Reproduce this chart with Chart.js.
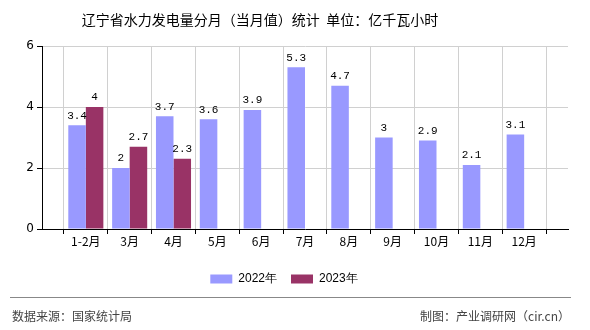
<!DOCTYPE html>
<html>
<head>
<meta charset="utf-8">
<script src="https://cdn.jsdelivr.net/npm/chart.js@4"></script>
<style>
  body { margin: 0; background: #fff; }
  #wrap { position: relative; width: 590px; height: 330px; font-family: "Noto Sans CJK SC", sans-serif; }
  #title { position: absolute; left: 0; top: 9px; width: 520px; text-align: center; font-size: 14px; color: #000; }
  #rule { position: absolute; left: 10px; top: 297px; width: 561px; height: 0; border-top: 1px solid #888; }
  .foot { position: absolute; top: 307px; font-size: 12px; color: #444; }
</style>
</head>
<body>
<div id="wrap">
  <canvas id="chart" width="590" height="330"></canvas>
  <div id="title">辽宁省水力发电量分月（当月值）统计&nbsp; 单位：亿千瓦小时</div>
  <div id="rule"></div>
  <div class="foot" style="left:12px">数据来源：国家统计局</div>
  <div class="foot" style="right:20px">制图：产业调研网（cir.cn）</div>
</div>
<script>
// month labels, padded with an empty slot at each end like the original axis
const months = ['1-2月', '3月', '4月', '5月', '6月', '7月', '8月', '9月', '10月', '11月', '12月'];
const values2022 = [3.4, 2, 3.7, 3.6, 3.9, 5.3, 4.7, 3, 2.9, 2.1, 3.1];
const values2023 = [4, 2.7, 2.3];
const yTicks = [0, 2, 4, 6];

const labels = [''].concat(months, ['']);
function pad(arr) {
    const out = [null];
    for (let i = 0; i < months.length; i++) out.push(i < arr.length ? arr[i] : null);
    out.push(null);
    return out;
}

// draw value above each bar
const valueLabels = {
    id: 'valueLabels',
    afterDatasetsDraw(chart) {
        const ctx = chart.ctx;
        ctx.save();
        ctx.font = '11px "Liberation Mono", monospace';
        ctx.fillStyle = '#000';
        ctx.textAlign = 'center';
        ctx.textBaseline = 'bottom';
        chart.data.datasets.forEach((ds, di) => {
            const meta = chart.getDatasetMeta(di);
            meta.data.forEach((bar, i) => {
                if (ds.data[i] == null) return;
                ctx.fillText(String(ds.data[i]), bar.x, bar.y - 4);
            });
        });
        ctx.restore();
    }
};

new Chart(document.getElementById('chart'), {
    type: 'bar',
    data: {
        labels: labels,
        datasets: [
            { label: '2022年', data: pad(values2022), backgroundColor: '#9999ff' },
            { label: '2023年', data: pad(values2023), backgroundColor: '#993366' }
        ]
    },
    options: {
        responsive: false,
        animation: false,
        layout: { padding: { top: 46, right: 22, bottom: 35, left: 0 } },
        datasets: { bar: { categoryPercentage: 0.8, barPercentage: 1 } },
        scales: {
            x: {
                offset: false,
                grid: { color: '#d0d0d0', tickColor: '#000', tickLength: 5 },
                border: { color: '#000' },
                ticks: { color: '#000', font: { size: 12, family: '"Noto Sans CJK SC", sans-serif' }, maxRotation: 0, autoSkip: false, padding: 0 },
                afterFit: s => { s.height = 30; }
            },
            y: {
                min: 0, max: 6,
                afterBuildTicks: s => { s.ticks = yTicks.map(v => ({ value: v })); },
                grid: { color: '#d0d0d0', tickColor: '#000', tickLength: 5 },
                border: { color: '#000' },
                ticks: { color: '#000', font: { size: 12, family: '"DejaVu Sans", sans-serif' }, padding: 3 },
                afterFit: s => { s.width = 42; }
            }
        },
        plugins: {
            legend: {
                position: 'bottom',
                labels: {
                    boxWidth: 22, boxHeight: 9, padding: 14,
                    color: '#000',
                    font: { size: 12, family: '"Liberation Sans", sans-serif' }
                }
            },
            tooltip: { enabled: false }
        }
    },
    plugins: [valueLabels]
});
</script>
</body>
</html>
